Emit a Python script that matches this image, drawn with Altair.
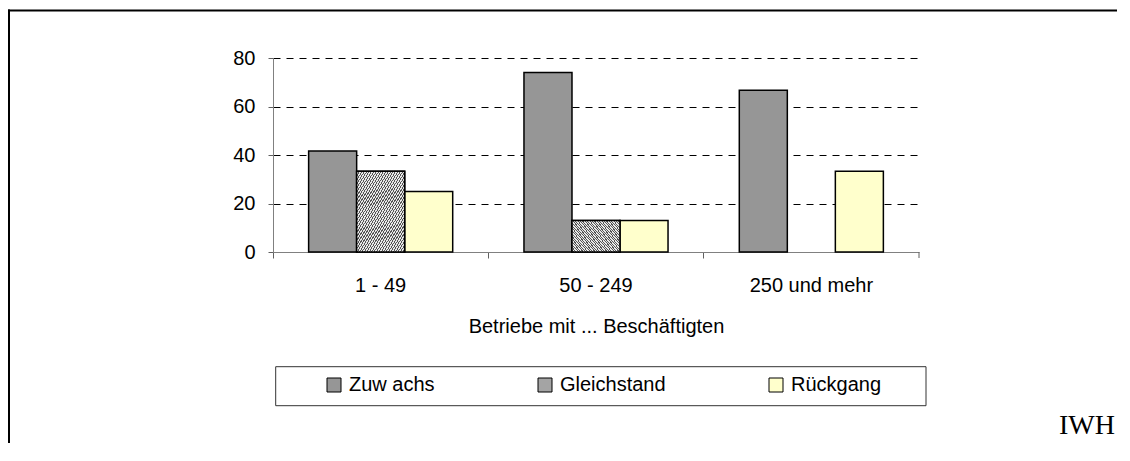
import altair as alt
import pandas as pd

# ---- data ----
categories = ["1 - 49", "50 - 249", "250 und mehr"]
series = ["Zuw achs", "Gleichstand", "Rückgang"]
zuwachs = [41.7, 74.0, 66.7]
gleichstand = [33.3, 13.0, 0.0]
rueckgang = [25.0, 13.0, 33.3]
y_ticks = [0, 20, 40, 60, 80]
x_title = "Betriebe mit ... Beschäftigten"
top_note = "in % der Unternehmen"
source_note = "IWH"
series_colors = ["#969696", "#a4a4a4", "#FFFFCC"]

rows = []
for vals, s in zip([zuwachs, gleichstand, rueckgang], series):
    for c, v in zip(categories, vals):
        rows.append({"Betriebe": c, "Serie": s, "Wert": v})
df = pd.DataFrame(rows)
one = pd.DataFrame({"k": [0]})

W, H = 646, 194
FONT = "Liberation Sans"
SERIF = "Liberation Serif"

# fine diagonal hatch for "Gleichstand"
N = 40
dark, light = "#555555", "#e8e8e8"
stops = []
for i in range(N):
    a, b, c = i / N, (i + 0.45) / N, (i + 1) / N
    stops += [
        {"offset": a, "color": dark},
        {"offset": b, "color": dark},
        {"offset": b, "color": light},
        {"offset": c, "color": light},
    ]
hatch = {"gradient": "linear", "x1": 0, "y1": 0, "x2": 1, "y2": 1, "stops": stops}

x_enc = alt.X(
    "Betriebe:N",
    sort=categories,
    scale=alt.Scale(domain=categories, paddingInner=0, paddingOuter=0),
    axis=alt.Axis(
        title=x_title,
        labelAngle=0,
        labelFont=FONT,
        labelFontSize=20,
        labelColor="black",
        labelPadding=17,
        tickSize=6,
        tickColor="#606060",
        domainColor="#808080",
        bandPosition=0,
        titleFont=FONT,
        titleFontSize=20,
        titleFontWeight="normal",
        titleColor="black",
        titleX=W / 2,
        titleY=80,
        titleAlign="center",
        titleBaseline="alphabetic",
    ),
)
xo_enc = alt.XOffset(
    "Serie:N",
    sort=series,
    scale=alt.Scale(domain=series, paddingInner=0, paddingOuter=0.742),
)
y_enc = alt.Y(
    "Wert:Q",
    scale=alt.Scale(domain=[0, 80], nice=False),
    axis=alt.Axis(
        title=None,
        values=y_ticks,
        labelFont=FONT,
        labelFontSize=20,
        labelColor="black",
        labelPadding=13,
        tickSize=5,
        tickColor="#606060",
        domainColor="#808080",
        grid=True,
        gridColor="black",
        gridDash=[7, 6],
        gridWidth=1,
        gridOpacity={"condition": {"test": "datum.value === 0", "value": 0}, "value": 1},
    ),
)

# outer frame: only the left and top edges fall inside the window
frame_left = alt.Chart(one).mark_rule(color="black", strokeWidth=2).encode(
    x=alt.value(-264), y=alt.value(-48.5), y2=alt.value(385)
)
frame_top = alt.Chart(one).mark_rule(color="black", strokeWidth=2).encode(
    x=alt.value(-265), x2=alt.value(844), y=alt.value(-47.5)
)

legend_box = alt.Chart(one).mark_rect(fill="white", fillOpacity=0, stroke="#333333", strokeWidth=1).encode(
    x=alt.value(2.7), x2=alt.value(653), y=alt.value(308.7), y2=alt.value(347.7)
)

bars = (
    alt.Chart(df)
    .transform_filter("datum.Wert > 0")
    .mark_bar(stroke="black", strokeWidth=1.5)
    .encode(
        x=x_enc,
        xOffset=xo_enc,
        y=y_enc,
        color=alt.Color(
            "Serie:N",
            sort=series,
            scale=alt.Scale(domain=series, range=series_colors),
            legend=alt.Legend(
                title=None,
                orient="none",
                legendX=51,
                legendY=317,
                direction="horizontal",
                columns=3,
                columnPadding=100,
                symbolType="square",
                symbolSize=196,
                symbolStrokeColor="black",
                symbolStrokeWidth=1,
                symbolOpacity=1,
                labelFont=FONT,
                labelFontSize=20,
                labelColor="black",
                labelOffset=5,
                padding=0,
            ),
        ),
    )
)

hatch_bars = (
    alt.Chart(df)
    .transform_filter("datum.Serie === 'Gleichstand' && datum.Wert > 0")
    .mark_bar(fill=hatch, stroke="black", strokeWidth=1.5)
    .encode(x=x_enc, xOffset=xo_enc, y=y_enc)
)

end_tick = alt.Chart(one).mark_rule(color="#606060", strokeWidth=1).encode(
    x=alt.value(W), y=alt.value(H), y2=alt.value(H + 6)
)

iwh = alt.Chart(one).mark_text(
    text=source_note, font=SERIF, fontSize=28, align="right", baseline="alphabetic", color="black"
).encode(x=alt.value(842), y=alt.value(376))

note = alt.Chart(one).mark_text(
    text=top_note, font=SERIF, fontSize=26, align="left", baseline="alphabetic", color="black"
).encode(x=alt.value(-245), y=alt.value(-54))

chart = (
    alt.layer(frame_left, frame_top, legend_box, bars, hatch_bars, end_tick, iwh, note)
    .properties(
        width=W,
        height=H,
        autosize=alt.AutoSizeParams(type="none"),
        padding={"left": 265, "top": 50, "right": 198, "bottom": 192},
        background="white",
    )
    .configure_view(stroke="transparent")
)

chart.save("out.html", embed_options={"renderer": "svg", "actions": False})
